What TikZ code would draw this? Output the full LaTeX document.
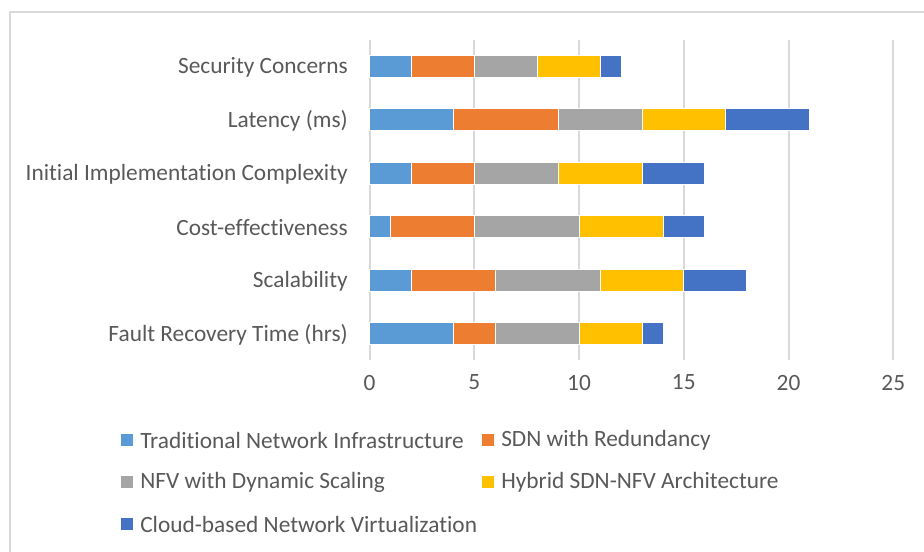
\documentclass[tikz,border=0pt]{standalone}
\usepackage{fontspec}
\setmainfont[RawFeature=-liga]{Carlito}
\definecolor{cA}{HTML}{5B9BD5}
\definecolor{cB}{HTML}{ED7D31}
\definecolor{cC}{HTML}{A5A5A5}
\definecolor{cD}{HTML}{FFC000}
\definecolor{cE}{HTML}{4472C4}
\definecolor{txt}{HTML}{595959}
\definecolor{gridc}{HTML}{D9D9D9}
\begin{document}
\begin{tikzpicture}[x=0.75pt,y=-0.75pt,
  lbl/.style={text=txt,font=\fontsize{17.5}{20}\selectfont,inner sep=0pt},
  seg/.style={draw=white,line width=0.4pt},
  legsq/.style={minimum size=8.3pt,inner sep=0pt}]
\useasboundingbox (0,0) rectangle (924,551);
\clip (0,0) rectangle (924,551);
\fill[white] (0,0) rectangle (924,551);
\draw[gridc,line width=1.5pt] (10,12) rectangle (940,570);
% gridlines and tick labels
\foreach \v in {0,5,10,15,20,25}{
  \draw[gridc,line width=1.5pt] ({369.5+\v*20.95},40) -- ({369.5+\v*20.95},360);
  \node[lbl] (t\v) at ({369.5+\v*20.95},382.5) {\v};
}
% bars
\foreach \n/\yy/\a/\b/\c/\d/\e/\lab in {
  s/66/2/5/8/11/12/Security Concerns,
  l/119.5/4/9/13/17/21/Latency (ms),
  i/173/2/5/9/13/16/Initial Implementation Complexity,
  c/226.5/1/5/10/14/16/Cost-effectiveness,
  k/280/2/6/11/15/18/Scalability,
  f/333.5/4/6/10/13/14/Fault Recovery Time (hrs)}{
  \fill[cA,seg] (369.5,\yy-11) rectangle ({369.5+\a*20.95},\yy+11);
  \fill[cB,seg] ({369.5+\a*20.95},\yy-11) rectangle ({369.5+\b*20.95},\yy+11);
  \fill[cC,seg] ({369.5+\b*20.95},\yy-11) rectangle ({369.5+\c*20.95},\yy+11);
  \fill[cD,seg] ({369.5+\c*20.95},\yy-11) rectangle ({369.5+\d*20.95},\yy+11);
  \fill[cE,seg] ({369.5+\d*20.95},\yy-11) rectangle ({369.5+\e*20.95},\yy+11);
  \node[lbl,anchor=east] (c\n) at (348,\yy+1) {\lab};
}
% legend
\foreach \n/\xx/\yy/\col/\lab in {
  a/127/440/cA/Traditional Network Infrastructure,
  b/488/440/cB/SDN with Redundancy,
  c/127/482/cC/NFV with Dynamic Scaling,
  d/488/482/cD/Hybrid SDN-NFV Architecture,
  e/127/524/cE/Cloud-based Network Virtualization}{
  \node[legsq,fill=\col] (q\n) at (\xx,\yy) {};
  \node[lbl,anchor=west] (l\n) at (\xx+13,\yy) {\lab};
}
\end{tikzpicture}
\end{document}
